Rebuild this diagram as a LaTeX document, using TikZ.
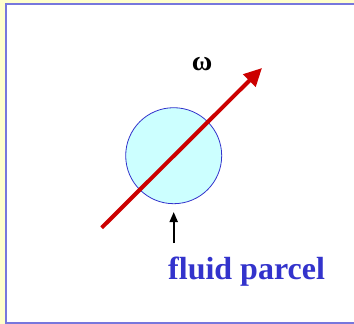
\documentclass[tikz,border=0pt]{standalone}
\usepackage{fontspec}
\setmainfont{Liberation Serif}
\usetikzlibrary{arrows.meta}
\definecolor{bgyellow}{HTML}{FFFFCC}
\definecolor{framecol}{HTML}{7777DD}
\definecolor{parcelfill}{HTML}{CCFFFF}
\definecolor{parceldraw}{HTML}{3333CC}
\definecolor{labelblue}{HTML}{3333CC}
\definecolor{vortred}{HTML}{CC0000}
\tikzset{
  framebox/.style={draw=framecol, line width=2bp, fill=white},
  parcel/.style={circle, draw=parceldraw, fill=parcelfill, line width=0.8bp, minimum size=96bp, inner sep=0pt},
  vortarrow/.style={draw=vortred, line width=4bp, -{Triangle[length=18bp,width=17bp]}},
  pointer/.style={draw=black, line width=2bp, -{Triangle[length=10bp,width=8bp]}},
  lbl/.style={font=\fontsize{32bp}{36bp}\selectfont\bfseries, text=labelblue, inner sep=0pt},
  omegalbl/.style={font=\fontsize{28bp}{30bp}\selectfont\bfseries, inner sep=0pt}
}
\begin{document}
\begin{tikzpicture}[x=1bp,y=-1bp]
\useasboundingbox (0,0) rectangle (354,324);
\fill[bgyellow] (0,0) rectangle (354,324);
\path[framebox] (6,4) rectangle (360,323);
\node[parcel] (p) at (173.7,155.7) {};
\coordinate (vs) at (101.7,227.7);
\coordinate (ve) at (262,68);
\draw[vortarrow] (vs) -- (ve);
\node[omegalbl] (w) at (202,64) {ω};
\node[lbl, anchor=base west] (fp) at (168,279) {fluid parcel};
\coordinate (ps) at (173.7,243);
\draw[pointer] (ps) -- (p.south |- 0,212);
\end{tikzpicture}
\end{document}
